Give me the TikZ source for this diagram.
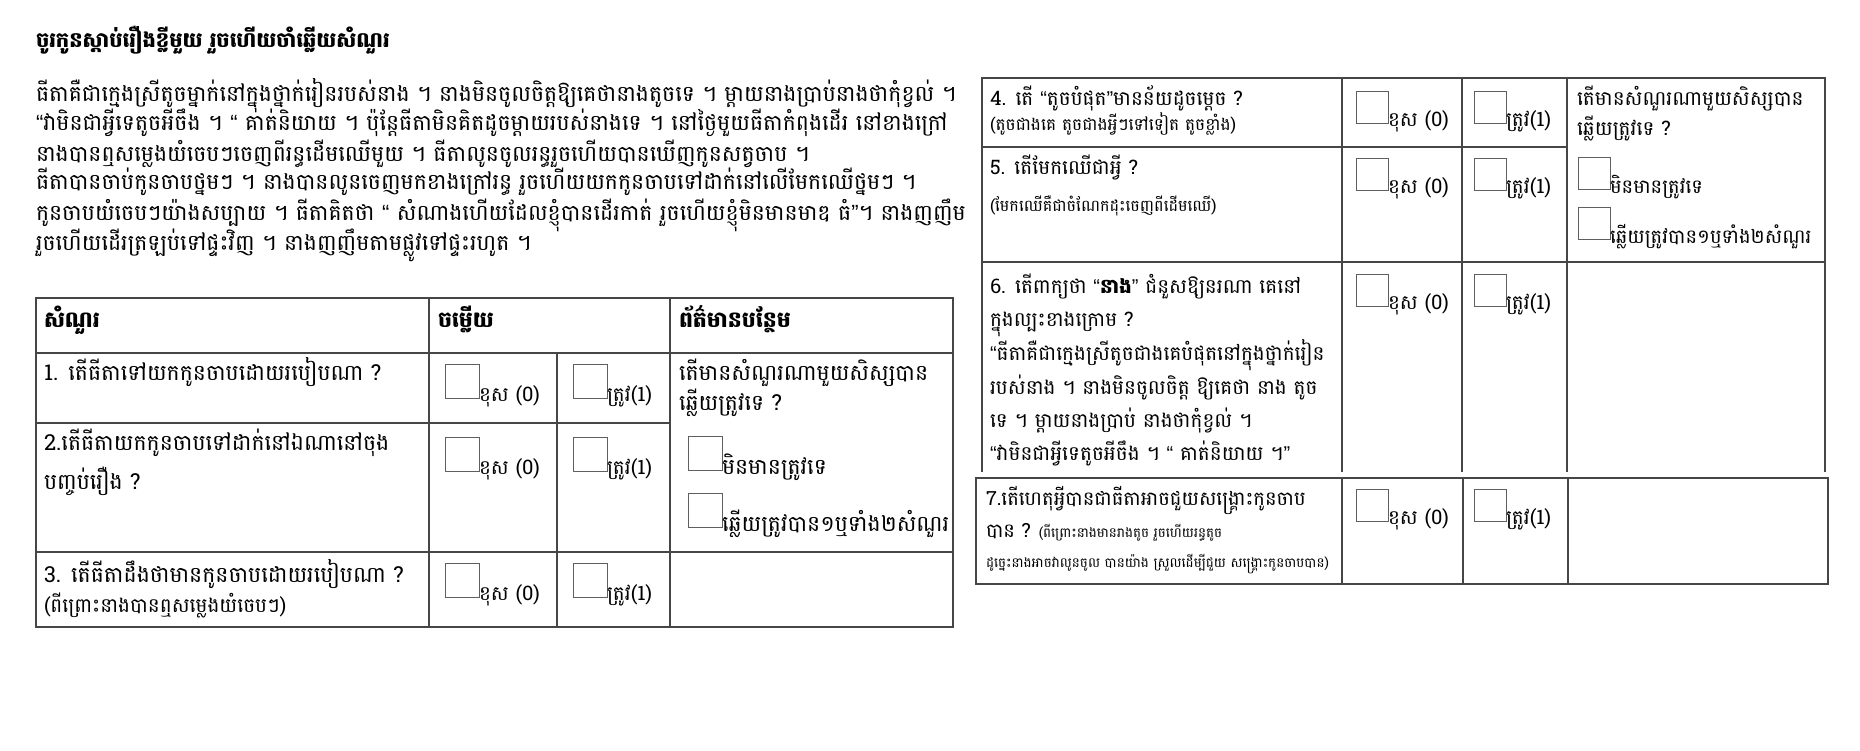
\documentclass[tikz,border=0pt]{standalone}
\usepackage{fontspec}
\newfontfamily\kh[Script=Khmer]{Battambang}
\newfontfamily\qt{Liberation Sans}
\newcommand\khlq{{\qt “}}
\newcommand\khrq{{\qt ”}}
\usetikzlibrary{positioning}
\definecolor{ln}{RGB}{70,70,70}
\definecolor{bx}{RGB}{95,95,95}

\begin{document}
\begin{tikzpicture}
  [x=1pt, y=-1pt, every node/.style={inner sep=0pt, outer sep=0pt},
   txt/.style={anchor=base west, font=\kh\fontsize{22}{26}\selectfont},
   rtx/.style={anchor=base west, font=\kh\fontsize{20}{24}\selectfont},
   sml/.style={anchor=base west, font=\kh\fontsize{16}{18}\selectfont},
   hdr/.style={anchor=base west, font=\kh\bfseries\fontsize{22}{26}\selectfont},
   lbl/.style={anchor=base west, font=\kh\fontsize{20}{22}\selectfont},
   tick/.style={draw=bx, line width=1pt, minimum size=34pt, anchor=north west},
   grid/.style={draw=ln, line width=1.5pt}]
  \useasboundingbox (0,0) rectangle (1860,750);
  \fill[white] (0,0) rectangle (1860,750);

  % title and story
  \node (title) [hdr, font=\kh\bfseries\fontsize{21}{26}\selectfont] at (36,47) {ចូរកូនស្តាប់រឿងខ្លីមួយ រួចហើយចាំឆ្លើយសំណួរ};
  \node (p1) [txt] at (36,101) {ធីតាគឺជាក្មេងស្រីតូចម្នាក់នៅក្នុងថ្នាក់រៀនរបស់នាង ។ នាងមិនចូលចិត្តឱ្យគេថានាងតូចទេ ។ ម្តាយនាងប្រាប់នាងថាកុំខ្វល់ ។};
  \node (p2) [txt] at (36,130) {\khlq វាមិនជាអ្វីទេតូចអីចឹង ។ \khlq\ គាត់និយាយ ។ ប៉ុន្តែធីតាមិនគិតដូចម្តាយរបស់នាងទេ ។ នៅថ្ងៃមួយធីតាកំពុងដើរ នៅខាងក្រៅ};
  \node (p3) [txt] at (36,161) {នាងបានឮសម្លេងយំចេបៗចេញពីរន្ធដើមឈើមួយ ។ ធីតាលូនចូលរន្ធរួចហើយបានឃើញកូនសត្វចាប ។};
  \node (p4) [txt] at (36,189) {ធីតាបានចាប់កូនចាបថ្នមៗ ។ នាងបានលូនចេញមកខាងក្រៅរន្ធ រួចហើយយកកូនចាបទៅដាក់នៅលើមែកឈើថ្នមៗ ។};
  \node (p5) [txt] at (36,220) {កូនចាបយំចេបៗយ៉ាងសប្បាយ ។ ធីតាគិតថា \khlq\ សំណាងហើយដែលខ្ញុំបានដើរកាត់ រួចហើយខ្ញុំមិនមានមាឌ ធំ\khrq ។  នាងញញឹម};
  \node (p6) [txt] at (36,250) {រួចហើយដើរត្រឡប់ទៅផ្ទះវិញ ។ នាងញញឹមតាមផ្លូវទៅផ្ទះរហូត ។};

  % left table
  \draw[grid] (36,298) rectangle (953,627);
  \draw[grid] (36,353) -- (953,353);
  \draw[grid] (36,423) -- (670,423);
  \draw[grid] (36,552) -- (953,552);
  \draw[grid] (429,298) -- (429,627);
  \draw[grid] (557,353) -- (557,627);
  \draw[grid] (670,298) -- (670,627);

  \node (h1) [hdr] at (44,327) {សំណួរ};
  \node (h2) [hdr] at (438,327) {ចម្លើយ};
  \node (h3) [hdr] at (679,327) {ព័ត៌មានបន្ថែម};

  \node (q1) [txt] at (44,380) {1. តើធីតាទៅយកកូនចាបដោយរបៀបណា ?};
  \node (q2a) [txt] at (44,450) {2.តើធីតាយកកូនចាបទៅដាក់នៅឯណានៅចុង};
  \node (q2b) [txt] at (44,489) {បញ្ចប់រឿង ?};
  \node (q3) [txt] at (44,582) {3.  តើធីតាដឹងថាមានកូនចាបដោយរបៀបណា ?};
  \node (q3n) [sml, font=\kh\fontsize{20}{22}\selectfont] at (44,612) {(ពីព្រោះនាងបានឮសម្លេងយំចេបៗ)};

  \node (w1) [tick] at (445,364) {};
  \node (r1) [tick] at (573,364) {};
  \node (w2) [tick] at (445,437) {};
  \node (r2) [tick] at (573,437) {};
  \node (w3) [tick] at (445,563) {};
  \node (r3) [tick] at (573,563) {};
  \node (w1l) [lbl] at ([yshift=-3pt]w1.south east) {ខុស (0)};
  \node (r1l) [lbl] at ([yshift=-3pt]r1.south east) {ត្រូវ(1)};
  \node (w2l) [lbl] at ([yshift=-3pt]w2.south east) {ខុស (0)};
  \node (r2l) [lbl] at ([yshift=-3pt]r2.south east) {ត្រូវ(1)};
  \node (w3l) [lbl] at ([yshift=-3pt]w3.south east) {ខុស (0)};
  \node (r3l) [lbl] at ([yshift=-3pt]r3.south east) {ត្រូវ(1)};

  \node (i1a) [txt] at (679,380) {តើមានសំណួរណាមួយសិស្សបាន};
  \node (i1b) [txt] at (679,410) {ឆ្លើយត្រូវទេ ?};
  \node (n1) [tick] at (688,436) {};
  \node (y1) [tick] at (688,493) {};
  \node (n1l) [txt] at ([yshift=-4pt]n1.south east) {មិនមានត្រូវទេ};
  \node (y1l) [txt] at ([yshift=-4pt]y1.south east) {ឆ្លើយត្រូវបាន១ឬទាំង២សំណួរ};

  % right table
  \draw[grid] (982,472) -- (982,78) -- (1825,78) -- (1825,472);
  \draw[grid] (982,147) -- (1567,147);
  \draw[grid] (982,262) -- (1825,262);
  \draw[grid] (1342,78) -- (1342,472);
  \draw[grid] (1462,78) -- (1462,472);
  \draw[grid] (1567,78) -- (1567,472);
  \draw[grid] (976,478) rectangle (1828,584);
  \draw[grid] (1342,478) -- (1342,584);
  \draw[grid] (1463,478) -- (1463,584);
  \draw[grid] (1568,478) -- (1568,584);

  \node (q4) [rtx] at (990,105) {4.  តើ \khlq តូចបំផុត\khrq មានន័យដូចម្តេច ?};
  \node (q4n) [sml, font=\kh\fontsize{17}{20}\selectfont] at (990,130) {(តូចជាងគេ តូចជាងអ្វីៗទៅទៀត តូចខ្លាំង)};
  \node (q5) [rtx] at (990,174) {5.  តើមែកឈើជាអ្វី ?};
  \node (q5n) [sml] at (990,211) {(មែកឈើគឺជាចំណែកដុះចេញពីដើមឈើ)};
  \node (q6a) [rtx] at (990,293) {6. តើពាក្យថា \khlq{\bfseries នាង}\khrq\ ជំនួសឱ្យនរណា គេនៅ};
  \node (q6b) [rtx] at (990,326) {ក្នុងល្បះខាងក្រោម ?};
  \node (q6c) [rtx] at (990,360) {\khlq ធីតាគឺជាក្មេងស្រីតូចជាងគេបំផុតនៅក្នុងថ្នាក់រៀន};
  \node (q6d) [rtx] at (990,394) {របស់នាង ។ នាងមិនចូលចិត្ត ឱ្យគេថា នាង តូច};
  \node (q6e) [rtx] at (990,427) {ទេ ។ ម្តាយនាងប្រាប់ នាងថាកុំខ្វល់ ។};
  \node (q6f) [rtx] at (990,460) {\khlq វាមិនជាអ្វីទេតូចអីចឹង ។ \khlq\ គាត់និយាយ ។\khrq};
  \node (q7a) [txt, font=\kh\fontsize{19.5}{24}\selectfont] at (986,505) {7.តើហេតុអ្វីបានជាធីតាអាចជួយសង្គ្រោះកូនចាប};
  \node (q7b) [txt, font=\kh\fontsize{19.5}{24}\selectfont] at (986,537) {បាន ?};
  \node (q7c) [sml, font=\kh\fontsize{13.5}{16}\selectfont, right=8pt of q7b.base east, anchor=base west] {(ពីព្រោះនាងមានរាងតូច រួចហើយរន្ធតូច};
  \node (q7d) [sml, font=\kh\fontsize{13.5}{16}\selectfont] at (986,567) {ដូច្នេះនាងអាចវាលូនចូល បានយ៉ាង ស្រួលដើម្បីជួយ សង្គ្រោះកូនចាបបាន)};

  \node (w4) [tick, minimum size=32pt] at (1356,91) {};
  \node (r4) [tick, minimum size=32pt] at (1474,91) {};
  \node (w5) [tick, minimum size=32pt] at (1356,158) {};
  \node (r5) [tick, minimum size=32pt] at (1474,158) {};
  \node (w6) [tick, minimum size=32pt] at (1356,274) {};
  \node (r6) [tick, minimum size=32pt] at (1474,274) {};
  \node (w7) [tick, minimum size=32pt] at (1356,489) {};
  \node (r7) [tick, minimum size=32pt] at (1474,489) {};
  \node (w4l) [lbl] at ([yshift=-3pt]w4.south east) {ខុស (0)};
  \node (r4l) [lbl] at ([yshift=-3pt]r4.south east) {ត្រូវ(1)};
  \node (w5l) [lbl] at ([yshift=-3pt]w5.south east) {ខុស (0)};
  \node (r5l) [lbl] at ([yshift=-3pt]r5.south east) {ត្រូវ(1)};
  \node (w6l) [lbl] at ([yshift=-3pt]w6.south east) {ខុស (0)};
  \node (r6l) [lbl] at ([yshift=-3pt]r6.south east) {ត្រូវ(1)};
  \node (w7l) [lbl] at ([yshift=-3pt]w7.south east) {ខុស (0)};
  \node (r7l) [lbl] at ([yshift=-3pt]r7.south east) {ត្រូវ(1)};

  \node (i2a) [rtx] at (1577,105) {តើមានសំណួរណាមួយសិស្សបាន};
  \node (i2b) [rtx] at (1577,135) {ឆ្លើយត្រូវទេ ?};
  \node (n2) [tick, minimum size=32pt] at (1578,157) {};
  \node (y2) [tick, minimum size=32pt] at (1578,207) {};
  \node (n2l) [rtx, font=\kh\fontsize{19.5}{24}\selectfont] at ([yshift=-4pt]n2.south east) {មិនមានត្រូវទេ};
  \node (y2l) [rtx, font=\kh\fontsize{19.5}{24}\selectfont] at ([yshift=-4pt]y2.south east) {ឆ្លើយត្រូវបាន១ឬទាំង២សំណួរ};
\end{tikzpicture}
\end{document}
